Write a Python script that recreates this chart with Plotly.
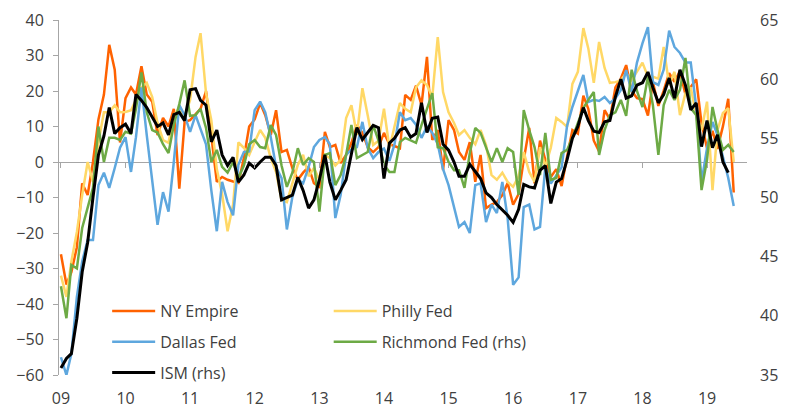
import pandas as pd
import plotly.graph_objects as go

# monthly survey readings, Jan 2009 - Jun 2019 (ISM to May 2019)
months = pd.date_range("2009-01-01", periods=126, freq="MS")

ny_empire = [
    -26, -34.5, -31, -24, -6, -9.3, 0, 12, 19, 33, 26, 5.5,
    18, 21, 19, 27, 19, 17, 7.6, 12.4, 10, 15, -7.5, 11.3,
    11.8, 13.5, 15, 20, 8, -5.6, -4.2, -5, -5.5, -5.9, 1.1, 10,
    12, 16.6, 13.2, 7.6, 14.6, 2.8, 3.4, -1.7, -5, -3, -1.4, -6,
    -7, 8.5, 4.2, 4.8, -0.3, 2, 5.4, 10.4, 8.2, 4.2, 2.8, 4.2,
    8.2, 5, 4.5, 3.9, 18.9, 17.5, 21.5, 16, 29.6, 6.2, 9, -2.3,
    11.8, 9, 2.8, 0.6, 5.6, -5.6, 2, -13, -12, -11.3, -9.3, -5.9,
    -12, -9, 0.6, 9.6, -6, 6, 0.6, -4.2, -2, -6.8, 1.5, 9,
    8, 18.7, 15, 6, 3, 14.6, 12, 21, 23.5, 27.3, 20, 18,
    17.7, 13.1, 22.5, 15.8, 20.1, 25, 22.6, 25.6, 19, 21.1, 23.3, 10.9,
    3.9, 8.8, 3.7, 10.1, 17.8, -8.6,
]

philly_fed = [
    -32, -38, -28, -19.7, -9.3, 0, -5.6, 5.6, 14, 14, 16, 14,
    14.1, 14.6, 17.5, 21, 22.3, 18.3, 11, 6.2, 5.4, 13.2, 15.2, 12.7,
    17.5, 29.6, 36.3, 19.4, 11.8, -2, -9, -19.5, -12, 5.5, 4, 2,
    5.6, 9, 6.8, 1.1, -2.8, -10.7, -11.3, -6, -0.8, 2, -4, -1.7,
    -5, 2, 1.1, -1, 0.6, 12.4, 16, 7.6, 20.8, 13.2, 4.8, 6,
    15, 3.9, 10, 16.6, 15, 14, 21, 23, 21.7, 18.3, 35.2, 19.7,
    14, 11, 7.6, 9, 6.8, 5, 9, 4.8, -3.7, -5, -3, -5.6,
    -7, -4, 2.8, -2.8, -5.6, 4.2, -1.4, 4, 12.4, 11.3, 9.9, 22,
    25.4, 37.7, 32, 22.3, 33.8, 26.5, 22.3, 22.5, 23, 25, 23, 25.4,
    28, 24, 24, 23.5, 32.4, 21.7, 25.4, 13.2, 19.4, 21, 13.2, 9,
    17, -7.9, 9, 13.8, 15.2, 0,
]

dallas_fed = [
    -55, -60, -54, -38, -28, -22, -22, -6.5, -3, -7.3, -1.7, 4,
    7, -2.8, 7, 21, 7.6, -5.6, -17.7, -8.5, -14, 0, 16, 13.2,
    8.5, 13.2, 9, 5, -8, -19.5, -5.6, -11.3, -15, -0.8, 2.8, 3,
    14.6, 17, 14, 7, -1.4, -4.5, -19, -9.9, -5, -6, -1.4, 4.2,
    6.2, 7, 5, -15.8, -9.3, 2, 3.5, 4.2, 11.3, 3.9, 1.1, 2.8,
    3.8, 0.3, 4.9, 14, 11.8, 12.4, 10.5, 6.8, 10, 8.2, 5, -2,
    -6.5, -13, -18.3, -16.9, -20, -6.5, -6, -16.9, -12, -14.4, -5.6, -15.8,
    -34.6, -32.5, -12.7, -12, -19, -18.3, -1.3, -6.1, -3.7, -1.5, 10.2, 15.5,
    20, 24.5, 16.9, 17.5, 17.2, 18.3, 16.6, 17.9, 20.3, 25.9, 19.7, 28,
    33.4, 38, 22.5, 21.7, 26, 37, 32.4, 30.7, 28, 28, 15.5, -5.6,
    3.9, 11.3, 7.6, 1.1, -4.5, -12.4,
]

richmond_fed = [
    -35, -44, -29, -30, -18.6, -13, -7.3, 10, 0, 6.8, 6.8, 6.2,
    8.5, 8, 15, 25.2, 14, 9, 8.3, 5, 2.5, 10.5, 16.3, 23,
    13, 13.2, 15, 9.6, 0, 3.4, -1.4, -3, 0, -4.5, -1, 5,
    6.2, 4.2, 3.9, 10.4, 7.6, -1, -7, -3, 3.9, -0.8, 1.1, 0,
    -14, 2, 2.5, -6.5, -3.7, 2, 10.4, 1.1, 2, 2.8, 10.4, 6,
    -0.8, -2.8, -2.8, 5.6, 6.8, 6, 5.4, 10.4, 15.2, 19.4, 4.2, 3.9,
    0, -2.3, -2.3, -7.3, 2.5, 9.6, 8.2, 3.9, 0, 3.9, 0, 3.9,
    2.8, -9.3, 14.6, 9, 4.2, -3.7, 8.2, -5, -4.5, 2.5, 3.4, 6.8,
    11.3, 15.2, 17.5, 19.7, 2, 9, 13.2, 14, 17.5, 13, 26, 20,
    15.5, 24, 16, 2, 16, 20.3, 17.5, 20.3, 29.3, 15.2, 13.2, -7.9,
    0.6, 15.5, 9, 3.4, 4.8, 2.8,
]

ism = [
    35.6, 36.4, 36.8, 39.8, 43.7, 46.2, 50.0, 53.6, 55.2, 57.6, 55.4, 55.9,
    56.2, 55.4, 58.7, 58.2, 57.6, 56.8, 56.0, 56.3, 55.3, 57.0, 57.2, 56.5,
    59.1, 59.2, 58.2, 57.8, 54.7, 55.7, 53.6, 52.7, 53.4, 51.3, 51.9, 52.9,
    52.5, 53.0, 53.4, 53.4, 52.7, 49.8, 50.0, 50.2, 51.7, 50.6, 49.1, 49.8,
    51.5, 53.6, 51.3, 49.8, 50.6, 51.5, 53.7, 55.9, 54.9, 55.5, 56.1, 55.9,
    51.6, 54.6, 55.0, 55.7, 55.9, 55.1, 55.4, 58.0, 55.5, 56.7, 56.8, 54.5,
    54.0, 53.0, 51.8, 51.8, 52.8, 52.2, 51.6, 50.4, 50.0, 49.4, 48.9, 48.5,
    47.9, 49.0, 51.1, 50.9, 50.8, 52.3, 52.7, 49.5, 51.3, 51.6, 53.2, 55.0,
    56.0, 57.6, 56.5, 55.6, 55.5, 56.4, 56.5, 58.5, 60.0, 58.4, 58.6, 59.5,
    59.7, 60.6, 59.3, 58.0, 58.7, 60.1, 58.4, 60.8, 59.5, 57.4, 58.0, 54.3,
    56.5, 54.2, 55.3, 53.0, 52.1,
]

year_ticks = pd.date_range("2009-01-01", periods=11, freq="YS")
year_labels = ["09", "10", "11", "12", "13", "14", "15", "16", "17", "18", "19"]

font_name = "Open Sans"
grey = "#404040"
axis_grey = "#A6A6A6"

fig = go.Figure()

def add_line(name, values, color, legend, width=2.5, axis="y"):
    fig.add_trace(go.Scatter(
        x=months[:len(values)], y=values, name=name, mode="lines",
        line=dict(color=color, width=width),
        legend=legend, legendgroup=name, yaxis=axis,
        hoverinfo="skip",
    ))

add_line("NY Empire", ny_empire, "#FF6200", "legend")
add_line("Philly Fed", philly_fed, "#FFD866", "legend2")
add_line("Dallas Fed", dallas_fed, "#5EA7DE", "legend")
add_line("Richmond Fed (rhs)", richmond_fed, "#6DAA45", "legend2")
add_line("ISM (rhs)", ism, "#000000", "legend", width=3, axis="y2")

# empty trace so the year tick marks can sit on the zero line
fig.add_trace(go.Scatter(x=[], y=[], xaxis="x2", showlegend=False, hoverinfo="skip"))

legend_style = dict(
    font=dict(family=font_name, size=16, color=grey),
    bgcolor="rgba(0,0,0,0)", itemwidth=43, tracegroupgap=7,
    yanchor="top", xanchor="left", itemclick=False,
)

# the page body keeps an 8px default margin, so the figure is 8px smaller
fig.update_layout(
    width=792, height=404,
    margin=dict(l=51, r=53, t=12, b=37),
    paper_bgcolor="white", plot_bgcolor="white",
    font=dict(family=font_name, size=16, color=grey),
    showlegend=True,
    legend=dict(x=0.07, y=0.228, **legend_style),
    legend2=dict(x=0.392, y=0.228, **legend_style),
    xaxis=dict(
        type="date", range=["2008-12-21", "2019-08-15"],
        tickvals=year_ticks, ticktext=year_labels,
        showgrid=False, showline=False, zeroline=False, ticks="",
        ticklabelstandoff=12, automargin=False,
        tickfont=dict(family=font_name, size=16, color=grey),
    ),
    xaxis2=dict(
        type="date", overlaying="x", matches="x", anchor="free", position=0.6,
        tickvals=year_ticks, showticklabels=False, automargin=False,
        ticks="outside", ticklen=5, tickcolor=axis_grey, tickwidth=1,
        showgrid=False, showline=False, zeroline=False,
    ),
    yaxis=dict(
        range=[-60, 40], dtick=10, showgrid=False, automargin=False,
        showline=True, linecolor=axis_grey, linewidth=1,
        ticks="outside", ticklen=5, tickcolor=axis_grey,
        zeroline=True, zerolinecolor=axis_grey, zerolinewidth=1,
        ticklabelstandoff=6,
        tickfont=dict(family=font_name, size=16, color=grey),
    ),
    yaxis2=dict(
        range=[35, 65], dtick=5, overlaying="y", side="right",
        showgrid=False, showline=False, zeroline=False, ticks="",
        ticklabelstandoff=12, automargin=False,
        tickfont=dict(family=font_name, size=16, color=grey),
    ),
)

fig.write_html("out.html")
